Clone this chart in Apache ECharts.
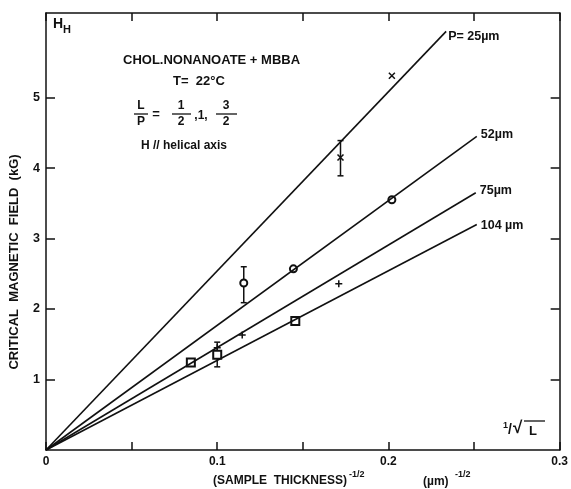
<!DOCTYPE html>
<html>
<head>
<meta charset="utf-8">
<script src="https://cdn.jsdelivr.net/npm/echarts@6/dist/echarts.min.js"></script>
<style>
html, body { margin: 0; padding: 0; background: #fff; }
#main { width: 571px; height: 489px; }
</style>
</head>
<body>
<div id="main"></div>
<script>
var dom = document.getElementById('main');
var myChart = echarts.init(dom);

// fitted lines, all from the origin
var fitNames = ['P= 25\u00b5m', '52\u00b5m', '75\u00b5m', '104 \u00b5m'];
var fitEndX = [0.2337, 0.2516, 0.251, 0.2516];
var fitEndY = [5.94, 4.45, 3.65, 3.20];

// measured points
var crossPts = [[0.202, 5.31], [0.172, 4.15]];
var circlePts = [[0.202, 3.55], [0.1445, 2.57], [0.1155, 2.37]];
var plusPts = [[0.171, 2.36], [0.1146, 1.63], [0.1, 1.45]];
var squarePts = [[0.1456, 1.83], [0.0846, 1.24], [0.1, 1.35]];

// error bars
var errX = [0.172, 0.1155, 0.1];
var errLo = [3.89, 2.09, 1.18];
var errHi = [4.39, 2.60, 1.53];

var xTickLabels = [0, 0.1, 0.2, 0.3];
var yTickLabels = [1, 2, 3, 4, 5];

var font = 'Liberation Sans';
var ink = '#111';
var labelOffsets = [[0, 5], [2, -2], [2, -2], [2, 1]];

function fitSeries(i) {
    return {
        type: 'line',
        symbol: 'none',
        silent: true,
        lineStyle: { color: ink, width: 1.6 },
        endLabel: {
            show: true,
            distance: 2,
            offset: labelOffsets[i],
            formatter: fitNames[i],
            color: ink,
            fontFamily: font,
            fontSize: 12.5,
            fontWeight: 'bold'
        },
        data: [[0, 0], [fitEndX[i], fitEndY[i]]]
    };
}

function scatter(data, symbol, size) {
    return {
        type: 'scatter',
        data: data,
        symbol: symbol,
        symbolSize: size,
        silent: true,
        itemStyle: { color: ink, borderColor: ink, borderWidth: 1.5, opacity: 1 }
    };
}

function axisBase(pos) {
    return {
        type: 'value',
        position: pos,
        axisLine: { onZero: false, lineStyle: { color: ink, width: 1.5 } },
        axisTick: { inside: true, length: 8, lineStyle: { color: ink, width: 1.5 } },
        axisLabel: { show: false },
        splitLine: { show: false }
    };
}

var xBottom = axisBase('bottom');
xBottom.min = 0; xBottom.max = 0.3; xBottom.interval = 0.05;
xBottom.axisLabel = {
    customValues: xTickLabels, margin: 6,
    formatter: function (v) { return v === 0 ? '0' : v.toFixed(1); },
    color: ink, fontFamily: font, fontSize: 12, fontWeight: 'bold'
};
var xTop = axisBase('top');
xTop.min = 0; xTop.max = 0.3; xTop.interval = 0.05;

var yLeft = axisBase('left');
yLeft.min = 0; yLeft.max = 6.2; yLeft.interval = 1;
yLeft.axisTick.customValues = yTickLabels;
yLeft.axisTick.length = 9;
yLeft.axisLabel = {
    customValues: yTickLabels, margin: 6,
    color: ink, fontFamily: font, fontSize: 12.5, fontWeight: 'bold'
};
var yRight = axisBase('right');
yRight.min = 0; yRight.max = 6.2; yRight.interval = 1;
yRight.axisTick.customValues = yTickLabels;
yRight.axisTick.length = 9;

option = {
    animation: false,
    grid: { left: 46, right: 4, top: 13, bottom: 39 },
    xAxis: [xBottom, xTop],
    yAxis: [yLeft, yRight],
    series: [
        fitSeries(0), fitSeries(1), fitSeries(2), fitSeries(3),
        scatter(crossPts, 'path://M0,0L10,10M10,0L0,10', 6),
        scatter(circlePts, 'emptyCircle', 7),
        scatter(plusPts, 'path://M5,0L5,10M0,5L10,5', 7),
        scatter(squarePts, 'emptyRect', 8),
        {
            type: 'custom',
            silent: true,
            data: errX.map(function (x, i) { return [x, errLo[i], errHi[i]]; }),
            renderItem: function (params, api) {
                var lo = api.coord([api.value(0), api.value(1)]);
                var hi = api.coord([api.value(0), api.value(2)]);
                var c = 3;
                var st = { stroke: ink, lineWidth: 1.5 };
                return {
                    type: 'group',
                    children: [
                        { type: 'line', shape: { x1: lo[0], y1: lo[1], x2: hi[0], y2: hi[1] }, style: st },
                        { type: 'line', shape: { x1: lo[0] - c, y1: lo[1], x2: lo[0] + c, y2: lo[1] }, style: st },
                        { type: 'line', shape: { x1: hi[0] - c, y1: hi[1], x2: hi[0] + c, y2: hi[1] }, style: st }
                    ]
                };
            }
        }
    ],
    graphic: [
        // H_H
        { type: 'text', left: 53, top: 17, style: { text: 'H', font: 'bold 14px ' + font, fill: ink } },
        { type: 'text', left: 63, top: 24, style: { text: 'H', font: 'bold 11px ' + font, fill: ink } },
        // header texts
        { type: 'text', left: 123, top: 54, style: { text: 'CHOL.NONANOATE + MBBA', font: 'bold 13px ' + font, fill: ink } },
        { type: 'text', left: 173, top: 75, style: { text: 'T=  22\u00b0C', font: 'bold 13px ' + font, fill: ink } },
        // L/P fractions
        { type: 'text', x: 141, y: 106, style: { text: 'L', font: 'bold 12px ' + font, fill: ink, align: 'center', verticalAlign: 'middle' } },
        { type: 'line', shape: { x1: 134, y1: 114, x2: 148, y2: 114 }, style: { stroke: ink, lineWidth: 1.3 } },
        { type: 'text', x: 141, y: 122, style: { text: 'P', font: 'bold 12px ' + font, fill: ink, align: 'center', verticalAlign: 'middle' } },
        { type: 'text', x: 156, y: 114, style: { text: '=', font: 'bold 13px ' + font, fill: ink, align: 'center', verticalAlign: 'middle' } },
        { type: 'text', x: 181, y: 106, style: { text: '1', font: 'bold 12px ' + font, fill: ink, align: 'center', verticalAlign: 'middle' } },
        { type: 'line', shape: { x1: 172, y1: 114, x2: 191, y2: 114 }, style: { stroke: ink, lineWidth: 1.3 } },
        { type: 'text', x: 181, y: 122, style: { text: '2', font: 'bold 12px ' + font, fill: ink, align: 'center', verticalAlign: 'middle' } },
        { type: 'text', x: 201, y: 116, style: { text: ',1,', font: 'bold 12px ' + font, fill: ink, align: 'center', verticalAlign: 'middle' } },
        { type: 'text', x: 226, y: 106, style: { text: '3', font: 'bold 12px ' + font, fill: ink, align: 'center', verticalAlign: 'middle' } },
        { type: 'line', shape: { x1: 216, y1: 114, x2: 237, y2: 114 }, style: { stroke: ink, lineWidth: 1.3 } },
        { type: 'text', x: 226, y: 122, style: { text: '2', font: 'bold 12px ' + font, fill: ink, align: 'center', verticalAlign: 'middle' } },
        { type: 'text', left: 141, top: 140, style: { text: 'H // helical axis', font: 'bold 12px ' + font, fill: ink } },
        // 1/sqrt(L)
        { type: 'text', left: 503, top: 421, style: { text: '1', font: 'bold 9px ' + font, fill: ink } },
        { type: 'text', left: 508, top: 423, style: { text: '/', font: 'bold 14px ' + font, fill: ink } },
        { type: 'text', left: 513, top: 420, style: { text: '\u221a', font: 'bold 17px ' + font, fill: ink } },
        { type: 'line', shape: { x1: 524, y1: 421, x2: 545, y2: 421 }, style: { stroke: ink, lineWidth: 1.3 } },
        { type: 'text', left: 529, top: 425, style: { text: 'L', font: 'bold 13px ' + font, fill: ink } },
        // x-axis title
        { type: 'text', left: 213, top: 475, style: { text: '(SAMPLE  THICKNESS)', font: 'bold 12px ' + font, fill: ink } },
        { type: 'text', left: 349, top: 470, style: { text: '-1/2', font: 'bold 9px ' + font, fill: ink } },
        { type: 'text', left: 423, top: 476, style: { text: '(\u00b5m)', font: 'bold 12px ' + font, fill: ink } },
        { type: 'text', left: 455, top: 470, style: { text: '-1/2', font: 'bold 9px ' + font, fill: ink } },
        // y-axis title
        {
            type: 'text', x: 14, y: 262, rotation: Math.PI / 2,
            style: { text: 'CRITICAL  MAGNETIC  FIELD  (kG)', font: 'bold 13px ' + font, fill: ink, align: 'center', verticalAlign: 'middle' }
        }
    ]
};

if (option && typeof option === 'object') {
    myChart.setOption(option, true);
}
</script>
</body>
</html>
